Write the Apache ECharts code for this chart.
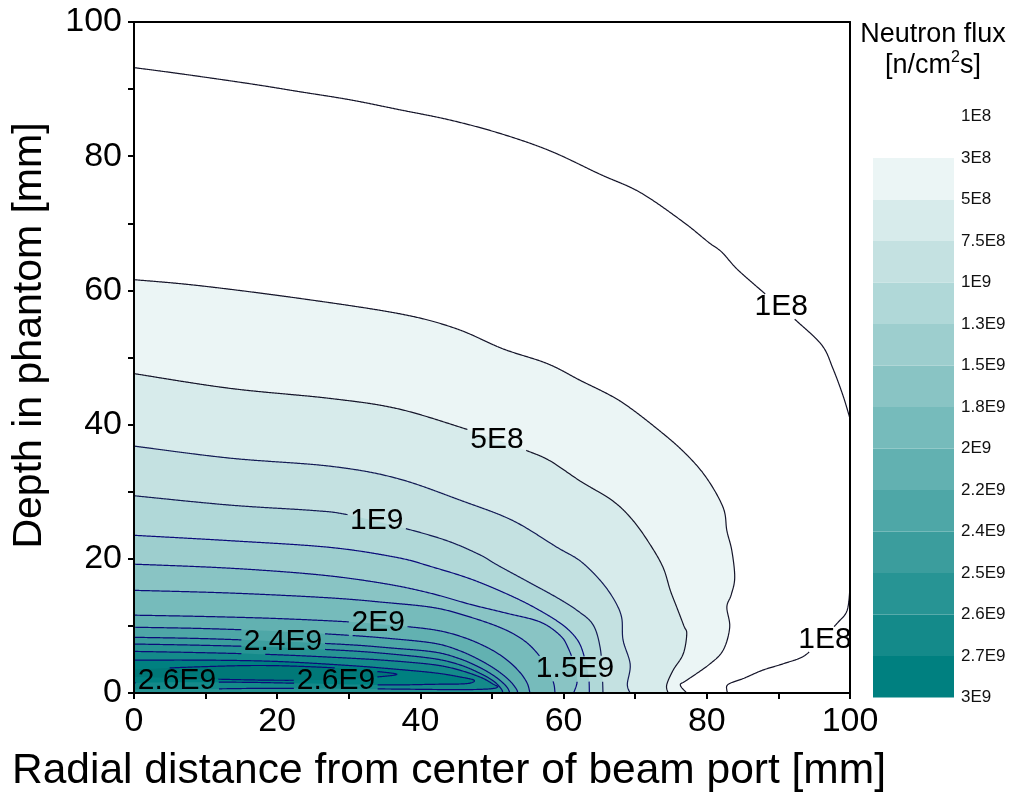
<!DOCTYPE html>
<html><head><meta charset="utf-8">
<script src="https://cdn.jsdelivr.net/npm/echarts@6/dist/echarts.min.js"></script>
<style>html,body{margin:0;padding:0;background:#fff}#c{width:1014px;height:798px}</style>
</head><body><div id="c"></div>
<script>
// ---------- data (mm) ----------
const c1E8a = [[0,93.2],[6.4,92.3],[16.2,90.8],[23.2,89.6],[30.2,88.4],[37.2,86.9],[44.1,85.4],[51.1,83.4],[58.1,80.8],[65.1,77.3],[70.7,74.6],[76.7,70.2],[80.2,67.2],[82.1,65.7],[84.2,63.2],[87.7,59.9],[90.3,57.5],[92.7,55.3],[96.1,51.8],[97.6,48.4],[99.0,44.4],[100,40.9]];
const c1E8b = [[100,15.7],[99.6,12.3],[98.3,10.5],[96.3,8.3],[93.7,5.6],[90.8,4.4],[87.8,3.4],[85.2,2.2],[83.0,1.3],[82.8,0.4],[83.0,0]];
const c3E8 = [[0,61.6],[9.2,60.7],[23.2,58.8],[37.2,56.5],[45,54.3],[51.5,51.3],[57.7,49.1],[62.3,46.6],[67.9,43.5],[73.5,39.0],[77.2,35.5],[80.0,32.0],[82.3,27.6],[82.8,24.2],[83.5,21.2],[83.9,17.2],[83.4,14.6],[82.8,12.8],[83.2,9.8],[82.3,6.4],[80.4,4.3],[77.2,1.9],[76.3,1.2],[77.2,0]];
const c5E8 = [[0,47.6],[13.4,45.4],[27.4,43.9],[36.7,42.4],[45.9,39.5],[50.5,37.8],[54.9,36.1],[58.1,34.6],[62.3,31.6],[66.9,28.6],[69.7,25.7],[72.1,22.1],[73.9,18.7],[74.9,15.3],[75.8,12.8],[76.8,10.0],[77.2,8.8],[76.7,5.8],[75.3,3.4],[74.4,1.2],[74.6,0]];
const c7_5E8 = [[0,36.8],[13.4,35.0],[27.4,33.8],[36.7,32.0],[45.9,28.6],[52.9,25.7],[59.1,21.7],[62.3,19.7],[65.1,16.8],[67.0,14.0],[68.1,11.3],[68.3,7.9],[69.3,4.3],[68.9,1.3],[69.3,0]];
const c1E9 = [[0,29.4],[13.4,28.0],[25.0,27.2],[29.7,26.6],[37.6,24.6],[43.7,22.7],[48.3,20.6],[50.7,19.1],[55.0,16.6],[59.1,14.2],[61.9,12.3],[64.1,10.2],[65.1,6.8],[65.4,2.8],[65.5,0]];
const c1_3E9 = [[0,23.5],[13.4,22.7],[27.4,21.7],[36.7,20.2],[41.3,18.9],[47,17.0],[52,14.8],[56,12.7],[59.8,10.2],[62.0,7.8],[63.0,5.0],[63.5,2.5],[63.6,0]];
const c1_5E9 = [[0,19.2],[13.4,18.6],[26,17.6],[35,16.3],[41.3,14.9],[47,13.2],[52,11.9],[56.7,10.6],[59.5,8.6],[60.6,6.8],[61.5,4.2],[61.9,1.8],[61.4,0]];
const c1_8E9 = [[0,15.3],[13.4,14.9],[27,14.2],[35,13.5],[42,12.7],[47,11.3],[51.5,9.6],[54.5,7.8],[56.5,5.7],[57.8,3.5],[58.6,1.5],[58.8,0]];
const c2E9 = [[0,11.6],[10,11.4],[20,11.1],[30,10.6],[36,10.1],[42,9.4],[46,8.3],[49.5,6.7],[52,5.0],[53.8,3.2],[54.9,1.5],[55.3,0]];
const c2_2E9 = [[0,9.8],[10,9.6],[20,9.2],[30,8.6],[36,8.1],[42,7.4],[45.5,6.3],[48.5,4.8],[50.8,3.3],[52.5,1.8],[53.4,0.6],[53.6,0]];
const c2_4E9 = [[0,8.3],[10,8.1],[20,7.7],[30,7.2],[36,6.7],[42,6.1],[45.5,5.1],[48.3,3.8],[50.5,2.4],[52,1.0],[52.5,0]];
const c2_5E9 = [[0,7.3],[10,7.1],[20,6.8],[30,6.3],[36,5.8],[42,5.1],[45.5,4.2],[48.2,3.0],[50.2,1.8],[51.3,0.6],[51.5,0]];
const c2_6E9 = [[0,6.2],[10,6.0],[20,5.7],[30,5.2],[36,4.8],[42,4.2],[45.5,3.4],[48.5,2.3],[50.2,1.3],[50.8,0.9],[49.5,0.6],[45,0.5],[35,0.6],[20,0.7],[10,0.6],[0,0.5]];
const c2_7E9 = [[0,4.9],[10,4.9],[20,4.7],[30,4.1],[36,3.6],[42,3.0],[45.5,2.4],[47.5,1.9],[46.5,1.4],[42,1.3],[35,1.2],[25,1.4],[15,1.6],[5,1.6],[0,1.5]];
const c3E9 = [[0,3.5],[9,3.9],[18,4.1],[27,3.8],[33,3.3],[36.7,2.8],[34,2.4],[28,2.0],[20,1.9],[10,2.1],[0,2.4]];

const labelNames = ['1E8','5E8','1E9','2E9','2.4E9','2.6E9','2.6E9','1.5E9','1E8'];
const labelX = [90.4, 50.7, 33.9, 34.1, 20.8, 6.0, 28.2, 61.6, 96.5];
const labelY = [57.6, 37.8, 25.7, 10.4, 7.6, 1.9, 1.9, 3.6, 8.0];

const legendTicks = ['1E8','3E8','5E8','7.5E8','1E9','1.3E9','1.5E9','1.8E9','2E9','2.2E9','2.4E9','2.5E9','2.6E9','2.7E9','3E9'];
const bandColors = ['#EBF5F5','#D7EBEB','#C4E1E1','#B0D8D8','#9DCECE','#89C4C4','#76BBBB','#62B1B1','#4EA7A7','#3B9D9D','#279494','#148A8A','#008080'];

// ---------- drawing ----------
const FONT = '"Liberation Sans", Arial, Helvetica, sans-serif';
const LABEL_SIZE = 30;
const mctx = document.createElement('canvas').getContext('2d');
function textWidth(t, size){ mctx.font = size + 'px ' + FONT; return mctx.measureText(t).width; }

function labelRects(api){
  return labelNames.map((n,i) => {
    const p = api.coord([labelX[i], labelY[i]]);
    const w = textWidth(n, LABEL_SIZE) + 4, h = LABEL_SIZE * 0.82;
    return {x: p[0]-w/2, y: p[1]-h/2, w: w, h: h};
  });
}
// Catmull-Rom smoothing of the drawn path in pixel space (rendering only)
function smoothPath(px){
  if (px.length < 3) return px;
  const out = [px[0]];
  for (let i=0;i<px.length-1;i++){
    const p0 = px[Math.max(0,i-1)], p1 = px[i], p2 = px[i+1], p3 = px[Math.min(px.length-1,i+2)];
    const n = 8;
    for (let k=1;k<=n;k++){
      const t=k/n, t2=t*t, t3=t2*t;
      const f = (a,b,c,d) => 0.5*((2*b) + (-a+c)*t + (2*a-5*b+4*c-d)*t2 + (-a+3*b-3*c+d)*t3);
      out.push([f(p0[0],p1[0],p2[0],p3[0]), f(p0[1],p1[1],p2[1],p3[1])]);
    }
  }
  return out;
}
function gapSegments(px, rects){
  const inside = (x,y) => rects.some(r => x>=r.x && x<=r.x+r.w && y>=r.y && y<=r.y+r.h);
  const segs = []; let cur = [];
  for (let i=0;i<px.length;i++){
    const a = px[i];
    if (i===0){ if(!inside(a[0],a[1])) cur.push(a); continue; }
    const b = px[i-1];
    const n = Math.max(1, Math.ceil(Math.hypot(a[0]-b[0], a[1]-b[1])));
    for (let k=1;k<=n;k++){
      const t=k/n, x=b[0]+(a[0]-b[0])*t, y=b[1]+(a[1]-b[1])*t;
      if (inside(x,y)){ if(cur.length>1) segs.push(cur); cur=[]; }
      else cur.push([x,y]);
    }
  }
  if (cur.length>1) segs.push(cur);
  return segs;
}
function contourSeries(pts, fill, stroke){
  return {
    type:'custom', xAxisIndex:0, yAxisIndex:0, z:2, silent:true, data:[[0,0]],
    renderItem: function(params, api){
      const px = smoothPath(pts.map(p => api.coord(p)));
      const children = [];
      if (fill) children.push({type:'polygon', shape:{points: px.concat([api.coord([0,0])])}, style:{fill: fill, stroke: null}});
      gapSegments(px, labelRects(api)).forEach(s => children.push({type:'polyline', shape:{points:s}, style:{stroke: stroke, lineWidth:1.2, fill:null}}));
      return {type:'group', children: children};
    }
  };
}

const DARK = '#15152a', MID = '#141c55', NAVY = '#0b0b7a';
const fills = [
  [c3E8, bandColors[0], DARK], [c5E8, bandColors[1], DARK], [c7_5E8, bandColors[2], MID],
  [c1E9, bandColors[3], MID], [c1_3E9, bandColors[4], NAVY], [c1_5E9, bandColors[5], NAVY],
  [c1_8E9, bandColors[6], NAVY], [c2E9, bandColors[7], NAVY], [c2_2E9, bandColors[8], NAVY],
  [c2_4E9, bandColors[9], NAVY], [c2_5E9, bandColors[10], NAVY], [c2_6E9, bandColors[11], NAVY],
  [c2_7E9, bandColors[12], NAVY], [c3E9, '#007878', NAVY]
];
const series = [contourSeries(c1E8a, null, DARK), contourSeries(c1E8b, null, DARK)]
  .concat(fills.map(f => contourSeries(f[0], f[1], f[2])));

series.push({
  type:'custom', xAxisIndex:0, yAxisIndex:0, z:5, silent:true,
  data: labelNames.map((n,i) => [labelX[i], labelY[i], i]),
  renderItem: function(params, api){
    const p = api.coord([api.value(0), api.value(1)]);
    return {type:'text', x:p[0], y:p[1], style:{text: labelNames[api.value(2)], font: LABEL_SIZE+'px '+FONT, fill:'#000', align:'center', verticalAlign:'middle'}};
  }
});

for (let i = bandColors.length-1; i>=0; i--){
  series.push({type:'bar', xAxisIndex:2, yAxisIndex:2, stack:'cb', data:[1], barWidth:'100%', silent:true, itemStyle:{color: bandColors[i]}});
}

const axisTxt = {fontSize:34, fontFamily:FONT, color:'#000'};
const blackLine = {color:'#000', width:2};
const option = {
  animation:false,
  grid:[{left:134, top:22, width:716, height:674}, {left:873, top:116.5, width:81, height:581}],
  xAxis:[
    {gridIndex:0, type:'value', min:0, max:100, interval:20, z:10,
     axisLine:{onZero:false, lineStyle:blackLine}, axisTick:{length:6, lineStyle:blackLine},
     minorTick:{show:true, splitNumber:2, length:6, lineStyle:blackLine}, splitLine:{show:false},
     axisLabel:Object.assign({margin:12}, axisTxt),
     name:'Radial distance from center of beam port [mm]', nameLocation:'middle', nameGap:57,
     nameTextStyle:{fontSize:42.5, fontFamily:FONT, color:'#000', padding:[0,86,0,0]}},
    {gridIndex:0, type:'value', min:0, max:100, position:'top', z:10,
     axisLine:{onZero:false, lineStyle:blackLine}, axisTick:{show:false}, axisLabel:{show:false}, splitLine:{show:false}},
    {gridIndex:1, type:'category', data:['cb'], show:false}
  ],
  yAxis:[
    {gridIndex:0, type:'value', min:0, max:100, interval:20, z:10,
     axisLine:{onZero:false, lineStyle:blackLine}, axisTick:{length:6, lineStyle:blackLine},
     minorTick:{show:true, splitNumber:2, length:6, lineStyle:blackLine}, splitLine:{show:false},
     axisLabel:Object.assign({margin:12}, axisTxt),
     name:'Depth in phantom [mm]', nameLocation:'middle', nameGap:84,
     nameTextStyle:{fontSize:41, fontFamily:FONT, color:'#000', padding:[0,0,0,44]}},
    {gridIndex:0, type:'value', min:0, max:100, position:'right', z:10,
     axisLine:{onZero:false, lineStyle:blackLine}, axisTick:{show:false}, axisLabel:{show:false}, splitLine:{show:false}},
    {gridIndex:1, type:'value', min:0, max:14, interval:1, position:'right',
     axisLine:{show:false}, axisTick:{show:false}, splitLine:{show:false},
     axisLabel:{margin:7, fontSize:17, fontFamily:FONT, color:'#111', formatter: v => legendTicks[14 - v]}}
  ],
  graphic:[{type:'text', x:933, y:19, z:20,
    style:{text:'Neutron flux\n[n/cm{sup|2}s]', align:'center', font:'27px '+FONT, fill:'#000', lineHeight:31,
      rich:{sup:{fontSize:16, fontFamily:FONT, verticalAlign:'top', lineHeight:20}}}}],
  series: series
};
const chart = echarts.init(document.getElementById('c'), null, {renderer:'canvas'});
chart.setOption(option);
</script></body></html>
